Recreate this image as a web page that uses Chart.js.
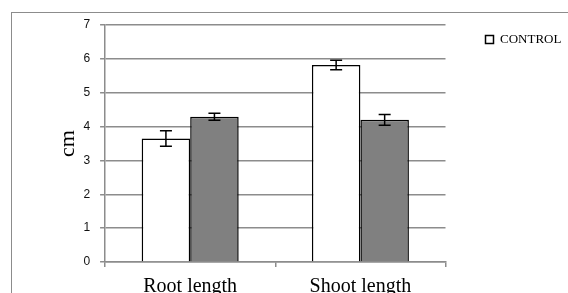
<!DOCTYPE html>
<html>
<head>
<meta charset="utf-8">
<script src="https://cdn.jsdelivr.net/npm/chart.js@4/dist/chart.umd.min.js"></script>
<style>
  html, body { margin: 0; padding: 0; background: #fff; overflow: hidden; }
  #wrap { position: relative; width: 568px; height: 307px; }
  #frame { position: absolute; left: 11px; top: 12px; width: 600px; height: 320px; border: 1px solid #8c8c8c; }
  #chart { position: absolute; left: 0; top: 0; }
</style>
</head>
<body>
<div id="wrap">
  <div id="frame"></div>
  <canvas id="chart" width="568" height="307"></canvas>
</div>
<script>
const categories = ["Root length", "Shoot length"];
const controlValues = [3.65, 5.82];
const controlErrors = [0.23, 0.14];
const treatedValues = [4.29, 4.2];
const treatedErrors = [0.1, 0.16];
const yTicks = [0, 1, 2, 3, 4, 5, 6, 7];

// draw the error bars on top of each bar using the chart's own scale
const errorBars = {
  id: 'errorBars',
  afterDatasetsDraw(chart) {
    const ctx = chart.ctx;
    const y = chart.scales.y;
    ctx.save();
    ctx.strokeStyle = '#000';
    ctx.lineWidth = 1.5;
    chart.data.datasets.forEach((ds, i) => {
      const meta = chart.getDatasetMeta(i);
      meta.data.forEach((bar, j) => {
        const v = ds.data[j], e = ds.errors[j];
        const top = y.getPixelForValue(v + e);
        const bot = y.getPixelForValue(v - e);
        ctx.beginPath();
        ctx.moveTo(bar.x, top); ctx.lineTo(bar.x, bot);
        ctx.moveTo(bar.x - 6, top); ctx.lineTo(bar.x + 6, top);
        ctx.moveTo(bar.x - 6, bot); ctx.lineTo(bar.x + 6, bot);
        ctx.stroke();
      });
    });
    ctx.restore();
  }
};

new Chart(document.getElementById('chart'), {
  type: 'bar',
  data: {
    labels: categories,
    datasets: [{
      label: 'CONTROL',
      data: controlValues,
      errors: controlErrors,
      backgroundColor: '#ffffff',
      borderColor: '#000',
      borderWidth: 1.5,
      categoryPercentage: 0.57,
      barPercentage: 1
    }, {
      label: 'TREATED',
      data: treatedValues,
      errors: treatedErrors,
      backgroundColor: '#808080',
      borderColor: '#000',
      borderWidth: 1.5,
      categoryPercentage: 0.57,
      barPercentage: 1
    }]
  },
  options: {
    responsive: false,
    animation: false,
    layout: { padding: { left: 55, top: 25, right: 6, bottom: 0 } },
    plugins: {
      tooltip: { enabled: false },
      legend: {
        position: 'right',
        align: 'start',
        labels: {
          boxWidth: 8,
          boxHeight: 8,
          padding: 8,
          color: '#000',
          font: { family: 'Liberation Serif', size: 13 },
          filter: (item) => item.datasetIndex === 0
        }
      }
    },
    scales: {
      x: {
        grid: { drawOnChartArea: false, offset: true, tickLength: 5, color: '#8c8c8c', lineWidth: 1.5 },
        border: { color: '#8c8c8c', width: 1.5 },
        ticks: { color: '#000', font: { family: 'Liberation Serif', size: 20 }, padding: 8 }
      },
      y: {
        min: 0,
        max: 7,
        afterBuildTicks: (axis) => { axis.ticks = yTicks.map(v => ({ value: v })); },
        grid: { color: '#8c8c8c', lineWidth: 1.5, tickLength: 5 },
        border: { color: '#8c8c8c', width: 1.5 },
        ticks: { color: '#111', font: { family: 'Liberation Sans', size: 12 }, padding: 10 },
        title: { display: true, text: 'cm', color: '#000', font: { family: 'Liberation Serif', size: 22 }, padding: { top: 0, bottom: -8 } }
      },
      // empty axis, only keeps the gap between plot and legend
      gap: {
        type: 'linear',
        position: 'right',
        grid: { display: false },
        border: { display: false },
        ticks: { display: false },
        afterFit: (axis) => { axis.width = 32; }
      }
    }
  },
  plugins: [errorBars]
});
</script>
</body>
</html>
